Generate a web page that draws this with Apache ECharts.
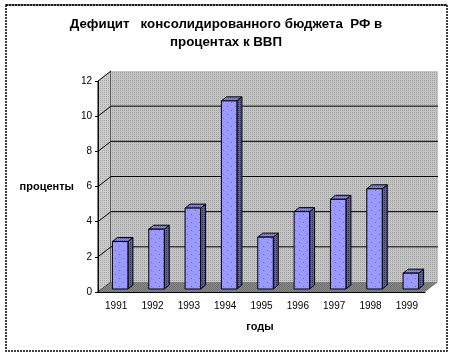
<!DOCTYPE html>
<html>
<head>
<meta charset="utf-8">
<style>
  html, body { margin: 0; padding: 0; background: #fff; }
  #chart { width: 453px; height: 357px; }
</style>
<script src="https://cdn.jsdelivr.net/npm/echarts@6/dist/echarts.min.js"></script>
</head>
<body>
<div id="chart"></div>
<script>
const years = ['1991', '1992', '1993', '1994', '1995', '1996', '1997', '1998', '1999'];
const deficit = [2.7, 3.4, 4.6, 10.7, 2.95, 4.4, 5.1, 5.7, 0.9];
const yTicks = [0, 2, 4, 6, 8, 10, 12];

// px offsets of the fake 3d box
const DX = 13, DY = -10;
const BAR_W = 15.5, BAR_SHIFT_X = 4, BAR_SHIFT_Y = -3, BAR_DX = 5, BAR_DY = -4;

function dither(w, h, base, dots, dotColor) {
  const c = document.createElement('canvas');
  c.width = w; c.height = h;
  const g = c.getContext('2d');
  g.fillStyle = base;
  g.fillRect(0, 0, w, h);
  g.fillStyle = dotColor;
  dots.forEach((d) => g.fillRect(d[0], d[1], 1, 1));
  return { image: c, repeat: 'repeat' };
}

const wallFill = dither(2, 2, '#c6c6c6', [[0, 0]], '#9c9c9c');
const sideFill = dither(2, 2, '#cccccc', [[0, 0]], '#a8a8a8');
const floorFill = dither(2, 2, '#8a8a8a', [[0, 0], [1, 1]], '#6e6e6e');
const barFill = dither(8, 8, '#9999ff', [[3, 2], [7, 6]], '#6a6ad0');
const barSideFill = dither(2, 2, '#60609c', [[0, 0]], '#30305f');
const barTopFill = dither(2, 2, '#8484d8', [[0, 0]], '#5a5aa0');

function poly(points, fill) {
  return {
    type: 'polygon',
    shape: { points: points },
    style: { fill: fill, stroke: '#000', lineWidth: 1 },
  };
}

function renderWalls(params, api) {
  const band = api.size([1, 0])[0];
  const x0 = api.coord([0, 0])[0] - band / 2;
  const x1 = x0 + band * years.length;
  const y0 = api.coord([0, 0])[1];
  const yTop = api.coord([0, 12])[1];
  const kids = [
    poly([[x0, y0], [x0 + DX, y0 + DY], [x0 + DX, yTop + DY], [x0, yTop]], sideFill),
    { type: 'polygon', shape: { points: [[x0 + DX, y0 + DY], [x1 + DX, y0 + DY], [x1 + DX, yTop + DY], [x0 + DX, yTop + DY]] }, style: { fill: wallFill } },
    { type: 'polygon', shape: { points: [[x0, y0], [x1, y0], [x1 + DX, y0 + DY], [x0 + DX, y0 + DY]] }, style: { fill: floorFill } },
  ];
  yTicks.slice(1, -1).forEach((t) => {
    const y = api.coord([0, t])[1];
    kids.push({ type: 'polyline', shape: { points: [[x0, y], [x0 + DX, y + DY], [x1 + DX, y + DY]] }, style: { fill: 'none', stroke: '#000', lineWidth: 1 } });
  });
  return { type: 'group', children: kids };
}

function renderBar(params, api) {
  const top = api.coord([api.value(0), api.value(1)]);
  const base = api.coord([api.value(0), 0]);
  const l = top[0] + BAR_SHIFT_X - BAR_W / 2;
  const r = l + BAR_W;
  const t = top[1] + BAR_SHIFT_Y;
  const b = base[1] + BAR_SHIFT_Y;
  return {
    type: 'group',
    children: [
      poly([[r, t], [r + BAR_DX, t + BAR_DY], [r + BAR_DX, b + BAR_DY], [r, b]], barSideFill),
      poly([[l, t], [l + BAR_DX, t + BAR_DY], [r + BAR_DX, t + BAR_DY], [r, t]], barTopFill),
      { type: 'rect', shape: { x: l, y: t, width: BAR_W, height: b - t }, style: { fill: barFill, stroke: '#000', lineWidth: 1 } },
    ],
  };
}

const chart = echarts.init(document.getElementById('chart'), null, { renderer: 'canvas' });
chart.setOption({
  animation: false,
  backgroundColor: '#fff',
  title: {
    text: 'Дефицит   консолидированного бюджета  РФ в\nпроцентах к ВВП',
    left: 221,
    top: 10,
    textAlign: 'center',
    textStyle: { fontFamily: 'Liberation Sans', fontSize: 13.3, fontWeight: 'bold', color: '#000', lineHeight: 18 },
  },
  graphic: [
    { type: 'rect', shape: { x: 6, y: 5, width: 441, height: 346 }, style: { fill: 'none', stroke: '#000', lineWidth: 1.5, lineDash: [2, 1] }, z: 10 },
    { type: 'line', shape: { x1: 6, y1: 5, x2: 447, y2: 5 }, style: { stroke: '#000', lineWidth: 1 }, z: 10 },
  ],
  grid: { left: 98, right: 28, top: 81, bottom: 65 },
  xAxis: {
    type: 'category',
    data: years,
    name: 'годы',
    nameLocation: 'middle',
    nameGap: 29,
    nameTextStyle: { fontFamily: 'Liberation Sans', fontSize: 11, fontWeight: 'bold', color: '#000', padding: [0, 3, 0, 0] },
    axisLine: { lineStyle: { color: '#000', width: 1 } },
    axisTick: { length: 3, lineStyle: { color: '#000' } },
    axisLabel: { fontFamily: 'Liberation Sans', fontSize: 10, color: '#000', margin: 9 },
    z: 5,
  },
  yAxis: {
    type: 'value',
    min: 0,
    max: 12,
    interval: 2,
    name: 'проценты',
    nameLocation: 'middle',
    nameRotate: 0,
    nameGap: 24,
    nameTextStyle: { fontFamily: 'Liberation Sans', fontSize: 11, fontWeight: 'bold', color: '#000' },
    axisLine: { show: true, lineStyle: { color: '#000', width: 1 } },
    axisTick: { show: true, length: 3, lineStyle: { color: '#000' } },
    axisLabel: { fontFamily: 'Liberation Sans', fontSize: 10, color: '#000', margin: 6 },
    splitLine: { show: false },
    z: 5,
  },
  series: [
    { type: 'custom', name: 'walls', data: [[0, 0]], renderItem: renderWalls, clip: false, z: 1, silent: true },
    { type: 'custom', name: 'Дефицит', data: deficit.map((v, i) => [i, v]), renderItem: renderBar, clip: false, z: 2, encode: { x: 0, y: 1 } },
  ],
});
</script>
</body>
</html>
